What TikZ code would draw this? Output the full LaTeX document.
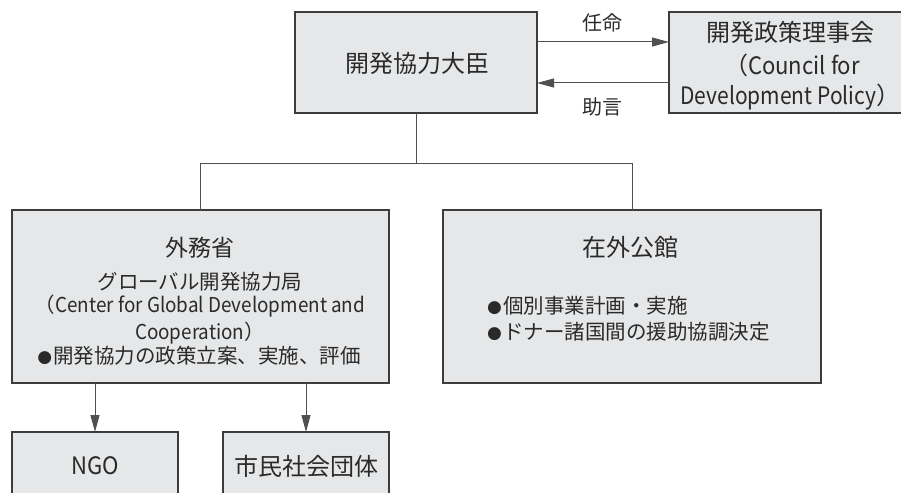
\documentclass[tikz,border=0pt]{standalone}
\usepackage{fontspec}
\setmainfont{Noto Sans CJK JP}
\newfontfamily\latn[FakeStretch=0.92]{Noto Sans CJK JP}
\newfontfamily\latnn[FakeStretch=0.875]{Noto Sans CJK JP}
\newfontfamily\dejavu{DejaVu Sans}
\newcommand{\blt}{\raisebox{1.2pt}{\fontsize{17}{17}\selectfont\dejavu ●}\hspace{1pt}}
\usetikzlibrary{arrows.meta}
\definecolor{boxfill}{HTML}{E6E7E8}
\definecolor{boxline}{HTML}{3C3C3C}
\definecolor{ink}{HTML}{2A2A2A}
\definecolor{linec}{HTML}{505050}
\begin{document}
\begin{tikzpicture}[x=1pt,y=-1pt,
  box/.style={draw=boxline,fill=boxfill,line width=1.3pt,inner sep=0pt,outer sep=0pt},
  conn/.style={draw=linec,line width=1pt},
  arr/.style={conn,-{Triangle[length=17pt,width=9pt]}},
  txt/.style={inner sep=0pt,text=ink},
  big/.style={txt,font=\fontsize{24}{28}\selectfont},
  small/.style={txt,font=\fontsize{20.5}{24}\selectfont}]
\useasboundingbox (0,0) rectangle (901,492);
% boxes
\node[box,minimum width=242pt,minimum height=101pt] (minister) at (416,62.5) {};
\node[box,minimum width=241pt,minimum height=101pt] (council) at (789.5,62.5) {};
\node[box,minimum width=377pt,minimum height=173pt] (mofa) at (200.5,296.5) {};
\node[box,minimum width=378pt,minimum height=173pt] (embassy) at (632,296.5) {};
\node[box,minimum width=166pt,minimum height=70pt] (ngo) at (95,467) {};
\node[box,minimum width=166pt,minimum height=70pt] (civil) at (306,467) {};
% texts
\node[big] (tminister) at (417,63) {開発協力大臣};
\node[big] (tcouncil1) at (790,32) {開発政策理事会};
\node[big] (tcouncil2) at (792,65) {（{\latn Council for}};
\node[big,anchor=east] (tcouncil3) at (900.5,97) {{\latnn Development Policy}）};
\node[big,font=\fontsize{23}{28}\selectfont] (tmofa) at (200,248) {外務省};
\node[small] (tmofa1) at (200,282) {グローバル開発協力局};
\node[small] (tmofa2) at (200,306) {（{\latn Center for Global Development and}};
\node[small] (tmofa3) at (200,333) {{\latn Cooperation}）};
\node[small] (tmofa4) at (199,356) {\blt 開発協力の政策立案、実施、評価};
\node[big] (tembassy) at (630,247) {在外公館};
\node[small,anchor=west] (tembassy1) at (487,306) {\blt 個別事業計画・実施};
\node[small,anchor=west] (tembassy2) at (487,332) {\blt ドナー諸国間の援助協調決定};
\node[big] (tngo) at (95,466) {\latn NGO};
\node[big] (tcivil) at (306,466) {市民社会団体};
% top arrows
\coordinate (ya) at (0,42);
\coordinate (yb) at (0,83);
\draw[arr] (minister.east |- ya) -- (council.west |- ya);
\draw[arr] (council.west |- yb) -- (minister.east |- yb);
\node[small,font=\fontsize{20}{24}\selectfont] (appoint) at (602,23) {任命};
\node[small,font=\fontsize{20}{24}\selectfont] (advise) at (602,107) {助言};
% tree
\coordinate (j) at (416,163);
\draw[conn] (minister.south) -- (j);
\draw[conn] (mofa.north) -- (mofa.north |- j) -- (embassy.north |- j) -- (embassy.north);
% lower arrows
\draw[arr] (mofa.south -| ngo.north) -- (ngo.north);
\draw[arr] (mofa.south -| civil.north) -- (civil.north);
\end{tikzpicture}
\end{document}
